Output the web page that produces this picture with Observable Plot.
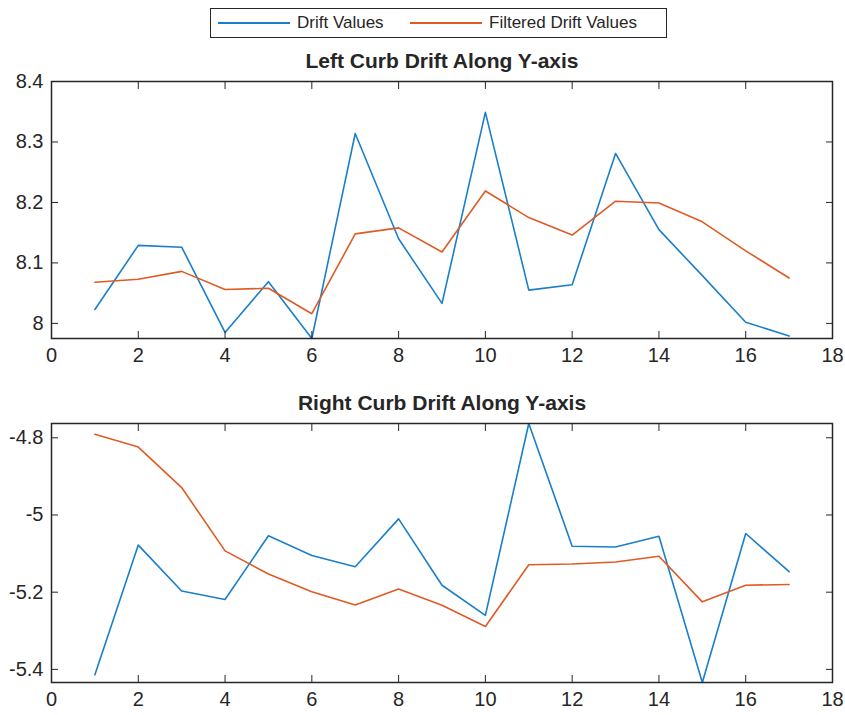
<!DOCTYPE html>
<html>
<head>
<meta charset="utf-8">
<script src="https://cdn.jsdelivr.net/npm/d3@7"></script>
<script src="https://cdn.jsdelivr.net/npm/@observablehq/plot@0.6"></script>
<style>
  html, body { margin: 0; padding: 0; background: #fff; }
  #wrap { position: relative; width: 845px; height: 715px; font-family: "Liberation Sans", Arial, sans-serif; color: #262626; }
  #legend { position: absolute; left: 210px; top: 8px; width: 455px; height: 28px; border: 1.5px solid #262626; background: #fff; box-sizing: content-box; }
  .entry { position: absolute; top: 0; height: 28px; display: flex; align-items: center; font-size: 17px; color: #262626; white-space: nowrap; }
  .swatch { display: inline-block; width: 72px; height: 0; border-top: 2px solid; margin-right: 7px; }
  #p1, #p2 { position: absolute; left: 0; }
  #p1 { top: 0; }
  #p2 { top: 370px; }
</style>
</head>
<body>
<div id="wrap">
  <div id="p1"></div>
  <div id="p2"></div>
  <div id="legend"></div>
</div>
<script>
// ---- data ----
const xs = [1, 2, 3, 4, 5, 6, 7, 8, 9, 10, 11, 12, 13, 14, 15, 16, 17];
const leftDrift    = [8.023, 8.129, 8.126, 7.985, 8.069, 7.975, 8.314, 8.140, 8.033, 8.349, 8.055, 8.064, 8.281, 8.155, 8.079, 8.002, 7.979];
const leftFiltered = [8.068, 8.073, 8.086, 8.056, 8.058, 8.016, 8.148, 8.158, 8.118, 8.219, 8.175, 8.146, 8.202, 8.199, 8.168, 8.120, 8.075];
const rightDrift    = [-5.414, -5.078, -5.197, -5.219, -5.054, -5.105, -5.134, -5.010, -5.182, -5.260, -4.763, -5.081, -5.083, -5.055, -5.434, -5.048, -5.147];
const rightFiltered = [-4.791, -4.824, -4.929, -5.093, -5.153, -5.199, -5.233, -5.192, -5.234, -5.289, -5.129, -5.127, -5.122, -5.107, -5.225, -5.182, -5.180];
const seriesNames = ["Drift Values", "Filtered Drift Values"];
const seriesColors = ["#1A7FCA", "#DF5B24"];
const titles = ["Left Curb Drift Along Y-axis", "Right Curb Drift Along Y-axis"];
const xTicks = [0, 2, 4, 6, 8, 10, 12, 14, 16, 18];
const leftYTicks = [8, 8.1, 8.2, 8.3, 8.4];
const rightYTicks = [-5.4, -5.2, -5, -4.8];
const xDomain = [0, 18];
const leftYDomain = [7.975, 8.4];
const rightYDomain = d3.extent([...rightDrift, ...rightFiltered]);

const ink = "#262626";

function panel(title, raw, filt, yDomain, yTicks, opts) {
  const rows = xs.flatMap((x, i) => [
    {x, y: raw[i], s: seriesNames[0]},
    {x, y: filt[i], s: seriesNames[1]}
  ]);
  return Plot.plot({
    width: 845,
    height: opts.height,
    marginLeft: 51,
    marginRight: 13,
    marginTop: opts.marginTop,
    marginBottom: opts.marginBottom,
    style: {fontFamily: "'Liberation Sans', Arial, sans-serif", fontSize: "20px", color: ink, background: "transparent", overflow: "visible"},
    x: {domain: xDomain},
    y: {domain: yDomain},
    color: {domain: seriesNames, range: seriesColors},
    marks: [
      Plot.line(rows, {x: "x", y: "y", z: "s", stroke: "s", strokeWidth: 1.6}),
      Plot.frame({stroke: ink, strokeWidth: 1.5}),
      Plot.axisX(xTicks, {anchor: "bottom", tickSize: 0, tickPadding: 9, tickFormat: d => String(d), fill: ink, label: null}),
      Plot.axisX(xTicks, {anchor: "bottom", tickSize: -7, tickFormat: () => "", stroke: ink, label: null}),
      Plot.axisX(xTicks, {anchor: "top", tickSize: -7, tickFormat: () => "", stroke: ink, label: null}),
      Plot.axisY(yTicks, {anchor: "left", tickSize: 0, tickPadding: 8, tickFormat: d => String(d), fill: ink, label: null}),
      Plot.axisY(yTicks, {anchor: "left", tickSize: -7, tickFormat: () => "", stroke: ink, label: null}),
      Plot.axisY(yTicks, {anchor: "right", tickSize: -7, tickFormat: () => "", stroke: ink, label: null}),
      Plot.text([title], {frameAnchor: "top", lineAnchor: "middle", dy: -20.5, text: d => d, fontWeight: "bold", fontSize: 21, fill: ink, style: "letter-spacing:0.8px"})
    ]
  });
}

document.getElementById("p1").appendChild(
  panel(titles[0], leftDrift, leftFiltered, leftYDomain, leftYTicks, {height: 370, marginTop: 81, marginBottom: 32})
);
document.getElementById("p2").appendChild(
  panel(titles[1], rightDrift, rightFiltered, rightYDomain, rightYTicks, {height: 345, marginTop: 53, marginBottom: 33})
);

// legend
const legend = document.getElementById("legend");
const entryLeft = [7, 199];
seriesNames.forEach((name, i) => {
  const e = document.createElement("div");
  e.className = "entry";
  e.style.left = entryLeft[i] + "px";
  const sw = document.createElement("span");
  sw.className = "swatch";
  sw.style.borderColor = seriesColors[i];
  e.appendChild(sw);
  e.appendChild(document.createTextNode(name));
  legend.appendChild(e);
});
</script>
</body>
</html>
